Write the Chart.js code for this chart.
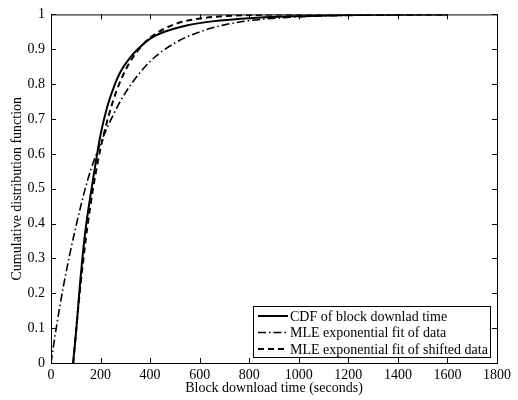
<!DOCTYPE html>
<html>
<head>
<meta charset="utf-8">
<script src="https://cdn.jsdelivr.net/npm/chart.js@4"></script>
<style>
  html, body { margin: 0; padding: 0; background: #fff; }
  #wrap { width: 518px; height: 400px; }
</style>
</head>
<body>
<div id="wrap"><canvas id="cdfChart"></canvas></div>
<script>
// values
const xTickValues = [0, 200, 400, 600, 800, 1000, 1200, 1400, 1600, 1800];
const yTickValues = [0, 0.1, 0.2, 0.3, 0.4, 0.5, 0.6, 0.7, 0.8, 0.9, 1];
const yTickLabels = ['0', '0.1', '0.2', '0.3', '0.4', '0.5', '0.6', '0.7', '0.8', '0.9', '1'];

const cdfTime = [89, 96, 102, 110, 118, 128, 138, 157, 177, 200, 227, 258, 280, 320, 350, 399, 450, 547, 650, 816, 1000, 1200, 1400, 1600];
const cdfProb = [0, 0.05, 0.095, 0.165, 0.235, 0.31, 0.375, 0.47, 0.56, 0.655, 0.735, 0.8, 0.835, 0.877, 0.9, 0.93, 0.948, 0.968, 0.98, 0.99, 0.995, 0.998, 0.999, 1];

const fitTime = [0, 20, 50, 100, 150, 200, 250, 300, 400, 500, 600, 700, 800, 1000, 1200, 1400, 1600];
const fitProb = [0, 0.095, 0.22, 0.39, 0.53, 0.63, 0.71, 0.775, 0.865, 0.918, 0.95, 0.97, 0.982, 0.993, 0.997, 0.999, 1];

const shiftTime = [90, 100, 120, 140, 160, 180, 200, 250, 300, 350, 400, 500, 600, 700, 800, 1000, 1200, 1600];
const shiftProb = [0, 0.083, 0.23, 0.353, 0.456, 0.543, 0.616, 0.751, 0.839, 0.896, 0.933, 0.972, 0.988, 0.995, 0.998, 1, 1, 1];

const seriesLabels = ['CDF of block downlad time', 'MLE exponential fit of data', 'MLE exponential fit of shifted data'];

const FONT = 'Liberation Serif, Times New Roman, serif';

function toPoints(xs, ys) {
  return xs.map((x, i) => ({ x: x, y: ys[i] }));
}

// matlab style box with inward ticks
const boxPlugin = {
  id: 'boxTicks',
  afterDatasetsDraw(chart) {
    const { ctx, chartArea: a, scales } = chart;
    ctx.save();
    ctx.strokeStyle = '#000';
    ctx.lineWidth = 1;
    ctx.strokeRect(a.left + 0.5, a.top + 0.5, a.right - a.left, a.bottom - a.top);
    ctx.beginPath();
    xTickValues.forEach(v => {
      const px = Math.round(scales.x.getPixelForValue(v)) + 0.5;
      ctx.moveTo(px, a.bottom); ctx.lineTo(px, a.bottom - 5);
      ctx.moveTo(px, a.top); ctx.lineTo(px, a.top + 5);
    });
    yTickValues.forEach(v => {
      const py = Math.round(scales.y.getPixelForValue(v)) + 0.5;
      ctx.moveTo(a.left, py); ctx.lineTo(a.left + 5, py);
      ctx.moveTo(a.right, py); ctx.lineTo(a.right - 5, py);
    });
    ctx.stroke();
    ctx.restore();
  }
};

// legend box in the lower right corner
const legendPlugin = {
  id: 'boxLegend',
  afterDraw(chart) {
    const { ctx, chartArea: a } = chart;
    const boxW = 237, boxH = 51;
    const bx = a.right - 7 - boxW, by = a.bottom - 6 - boxH;
    ctx.save();
    ctx.fillStyle = '#fff';
    ctx.fillRect(bx, by, boxW, boxH);
    ctx.strokeStyle = '#000';
    ctx.lineWidth = 1;
    ctx.strokeRect(bx + 0.5, by + 0.5, boxW, boxH);
    ctx.font = '14px ' + FONT;
    ctx.textBaseline = 'middle';
    ctx.fillStyle = '#000';
    chart.data.datasets.forEach((ds, i) => {
      const y = by + 10 + i * 16.5;
      ctx.beginPath();
      ctx.setLineDash(ds.borderDash || []);
      ctx.lineWidth = ds.borderWidth;
      ctx.moveTo(bx + 5, y);
      ctx.lineTo(bx + 35, y);
      ctx.stroke();
      ctx.setLineDash([]);
      ctx.fillText(ds.label, bx + 37, y + 1);
    });
    ctx.restore();
  }
};

new Chart(document.getElementById('cdfChart'), {
  type: 'line',
  data: {
    datasets: [
      {
        label: seriesLabels[0],
        data: toPoints(cdfTime, cdfProb),
        borderColor: '#000',
        borderWidth: 2,
        cubicInterpolationMode: 'monotone'
      },
      {
        label: seriesLabels[1],
        data: toPoints(fitTime, fitProb),
        borderColor: '#000',
        borderWidth: 1.6,
        borderDash: [8, 3, 1.5, 3],
        cubicInterpolationMode: 'monotone'
      },
      {
        label: seriesLabels[2],
        data: toPoints(shiftTime, shiftProb),
        borderColor: '#000',
        borderWidth: 2,
        borderDash: [6, 4],
        cubicInterpolationMode: 'monotone'
      }
    ]
  },
  options: {
    responsive: true,
    maintainAspectRatio: false,
    animation: false,
    layout: { padding: { top: 11, right: 21, left: 0, bottom: 0 } },
    elements: { point: { radius: 0 } },
    plugins: {
      legend: { display: false },
      tooltip: { enabled: false }
    },
    scales: {
      x: {
        type: 'linear',
        min: 0,
        max: 1800,
        afterBuildTicks: s => { s.ticks = xTickValues.map(v => ({ value: v })); },
        afterFit: s => { s.height = 37; },
        grid: { display: false, drawTicks: false },
        border: { display: false },
        ticks: {
          color: '#000',
          padding: 4,
          maxRotation: 0,
          font: { family: FONT, size: 14 },
          callback: v => String(v)
        },
        title: {
          display: true,
          text: 'Block download time (seconds)',
          color: '#000',
          padding: { top: 0, bottom: 3 },
          font: { family: FONT, size: 14 }
        }
      },
      y: {
        type: 'linear',
        min: 0,
        max: 1,
        afterBuildTicks: s => { s.ticks = yTickValues.map(v => ({ value: v })); },
        afterFit: s => { s.width = 51; },
        grid: { display: false, drawTicks: false },
        border: { display: false },
        ticks: {
          color: '#000',
          padding: 6,
          font: { family: FONT, size: 14 },
          callback: (v, i) => yTickLabels[i]
        },
        title: {
          display: true,
          text: 'Cumulative distribution function',
          color: '#000',
          padding: { top: 9, bottom: 0 },
          font: { family: FONT, size: 14 }
        }
      }
    }
  },
  plugins: [boxPlugin, legendPlugin]
});
</script>
</body>
</html>
